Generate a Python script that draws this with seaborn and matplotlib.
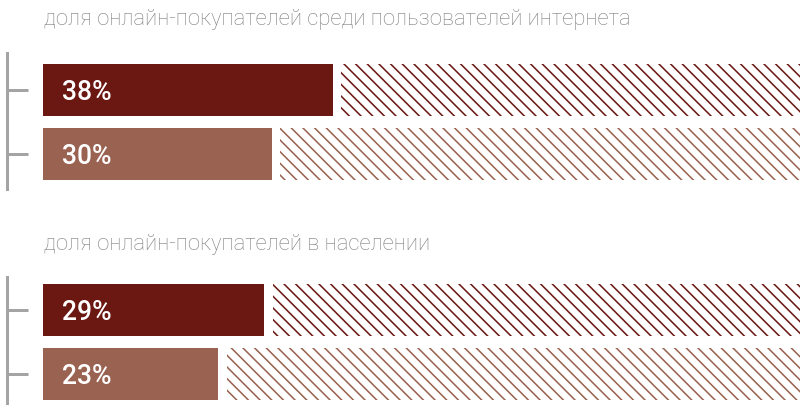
import matplotlib
matplotlib.use("Agg")
import matplotlib.pyplot as plt
import seaborn as sns
import pandas as pd

# ---- data ----
titles = ["доля онлайн-покупателей среди пользователей интернета",
          "доля онлайн-покупателей в населении"]
series = ["A", "B"]
group1_values = [38, 30]
group2_values = [29, 23]
bar_colors = ["#6B1712", "#9A6250"]

sns.set_theme(style="white")
plt.rcParams["font.family"] = ["Roboto", "DejaVu Sans"]
plt.rcParams["hatch.linewidth"] = 0.8

DPI = 140
W, H = 800, 405
fig = plt.figure(figsize=(W / DPI, H / DPI), dpi=DPI)


def pt(px):
    return px * 72 / DPI


PX = 7.63   # pixels per percent
X0 = 43     # pixel of 0 %
AX_LEFT = 7
GAP = 1.1
BAR_H = 52 / 64
GRAY = "#A4A4A4"
HATCH = "\\" * 4


def draw_group(values, title, top, bottom, c0, title_y):
    ax = fig.add_axes([AX_LEFT / W, 1 - bottom / H, (W - AX_LEFT) / W, (bottom - top) / H])
    df = pd.DataFrame({"series": series, "value": values})
    sns.barplot(data=df, x="value", y="series", hue="series", palette=bar_colors,
                width=BAR_H, saturation=1, legend=False, orient="h", ax=ax, linewidth=0)
    # hatched remainder
    rest_left = [v + GAP for v in values]
    rest_w = [100 - l for l in rest_left]
    for i in range(len(values)):
        ax.barh(i, rest_w[i], left=rest_left[i], height=BAR_H, color="none",
                edgecolor=bar_colors[i], hatch=HATCH, linewidth=0)
        ax.text(2.5, i, f"{values[i]}%", color="white", fontsize=pt(26.5),
                fontweight="medium", va="center_baseline", ha="left")
    ax.set_xlim((AX_LEFT - X0) / PX, (W - X0) / PX)
    ax.set_ylim((bottom - c0) / 64, (top - c0) / 64)
    for s in ["top", "right", "bottom"]:
        ax.spines[s].set_visible(False)
    ax.spines["left"].set_color(GRAY)
    ax.spines["left"].set_linewidth(pt(3))
    ax.set_yticks([0, 1])
    ax.set_xticks([])
    ax.tick_params(axis="y", left=True, direction="in", length=pt(21), width=pt(3),
                   color=GRAY, labelleft=False)
    ax.set_xlabel("")
    ax.set_ylabel("")
    fig.text(44 / W, 1 - title_y / H, title, color="#7E7E7E", fontsize=pt(22),
             fontweight="light", va="center", ha="left")


draw_group(group1_values, titles[0], 53, 189, 90, 20)
draw_group(group2_values, titles[1], 277, 410, 310, 244)

fig.savefig("out.png", dpi=DPI)
